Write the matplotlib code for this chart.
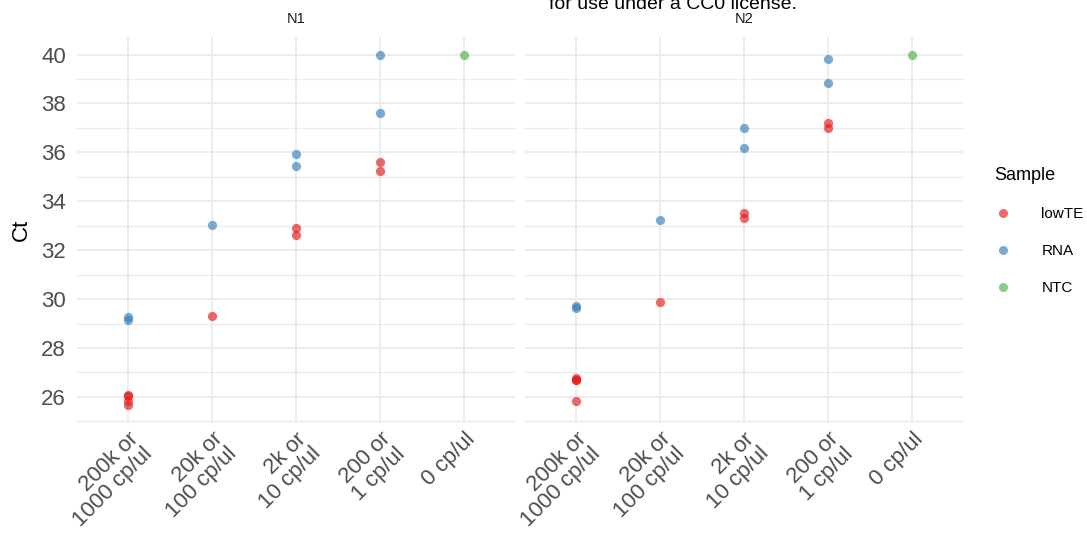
import matplotlib
matplotlib.use("Agg")
import matplotlib.pyplot as plt
from matplotlib.lines import Line2D

plt.rcParams['font.family'] = ['Liberation Sans', 'DejaVu Sans']

categories = ["200k or\n1000 cp/ul", "20k or\n100 cp/ul", "2k or\n10 cp/ul", "200 or\n1 cp/ul", "0 cp/ul"]
panels = ["N1", "N2"]
samples = ["lowTE", "RNA", "NTC"]
colors = {"lowTE": "#E41A1C", "RNA": "#377EB8", "NTC": "#4DAF4A"}

# N1 values: (category index, Ct)
n1_lowTE_cat = [0, 0, 0, 0, 1, 2, 2, 3, 3]
n1_lowTE_ct = [26.08, 26.02, 25.85, 25.65, 29.3, 32.9, 32.64, 35.6, 35.24]
n1_RNA_cat = [0, 0, 1, 2, 2, 3, 3]
n1_RNA_ct = [29.28, 29.16, 33.02, 35.92, 35.44, 40.0, 37.6]
n1_NTC_cat = [4]
n1_NTC_ct = [40.0]

n2_lowTE_cat = [0, 0, 0, 0, 1, 2, 2, 3, 3]
n2_lowTE_ct = [26.76, 26.7, 26.68, 25.82, 29.9, 33.54, 33.33, 37.21, 37.0]
n2_RNA_cat = [0, 0, 1, 2, 2, 3, 3]
n2_RNA_ct = [29.7, 29.64, 33.22, 36.98, 36.18, 39.81, 38.82]
n2_NTC_cat = [4]
n2_NTC_ct = [40.0]

data = {
    "N1": {"lowTE": (n1_lowTE_cat, n1_lowTE_ct), "RNA": (n1_RNA_cat, n1_RNA_ct), "NTC": (n1_NTC_cat, n1_NTC_ct)},
    "N2": {"lowTE": (n2_lowTE_cat, n2_lowTE_ct), "RNA": (n2_RNA_cat, n2_RNA_ct), "NTC": (n2_NTC_cat, n2_NTC_ct)},
}

W, H = 1087, 540
fig = plt.figure(figsize=(W / 100, H / 100), dpi=100)
fig.patch.set_facecolor("white")

ax_top, ax_bot = 37, 423
lefts = [77, 525]
width = 438
grid_c = "#EBEBEB"

all_ct = [v for p in data.values() for (_, ys) in p.values() for v in ys]
ymin, ymax = min(all_ct), max(all_ct)
pad = (ymax - ymin) * 0.05

axes = []
for i, p in enumerate(panels):
    ax = fig.add_axes([lefts[i] / W, 1 - ax_bot / H, width / W, (ax_bot - ax_top) / H])
    axes.append(ax)
    ax.set_xlim(-0.6, 4.6)
    ax.set_ylim(ymin - pad, ymax + pad)
    for s in ax.spines.values():
        s.set_visible(False)
    ax.set_yticks([26, 28, 30, 32, 34, 36, 38, 40])
    ax.set_yticks([25, 27, 29, 31, 33, 35, 37, 39], minor=True)
    ax.set_xticks(range(len(categories)))
    ax.grid(True, which="major", color=grid_c, linewidth=1.3)
    ax.grid(True, which="minor", axis="y", color=grid_c, linewidth=0.9)
    ax.set_axisbelow(True)
    ax.tick_params(which="both", length=0)
    ax.set_xticklabels(categories, rotation=45, ha="right", rotation_mode="anchor",
                       fontsize=16, color="#4D4D4D", multialignment="right", linespacing=1.0)
    if i == 0:
        ax.tick_params(axis="y", labelsize=16, labelcolor="#4D4D4D", pad=8)
        ax.set_ylabel("Ct", fontsize=16, color="black", labelpad=7)
    else:
        ax.set_yticklabels([])
    ax.tick_params(axis="x", pad=4)
    for s in samples:
        xs, ys = data[p][s]
        ax.scatter(xs, ys, s=44, color=colors[s], alpha=0.65, linewidths=0, zorder=3)
    ax.set_title(p, fontsize=10.5, color="#1A1A1A", pad=10)

fig.text(673 / W, 1 - 9 / H, "for use under a CC0 license.", fontsize=14, ha="center", va="baseline", color="black")

handles = [Line2D([], [], marker="o", linestyle="", markersize=6.5, markerfacecolor=colors[s],
                  markeredgewidth=0, alpha=0.65, label=s) for s in samples]
leg = fig.legend(handles=handles, title="Sample", loc="upper left", bbox_to_anchor=(988 / W, 1 - 161 / H),
                 frameon=False, fontsize=11, title_fontsize=13, labelspacing=1.5, handletextpad=1.9,
                 handlelength=1.2, borderaxespad=0)
leg._legend_box.align = "left"

fig.savefig("out.png", dpi=100)
